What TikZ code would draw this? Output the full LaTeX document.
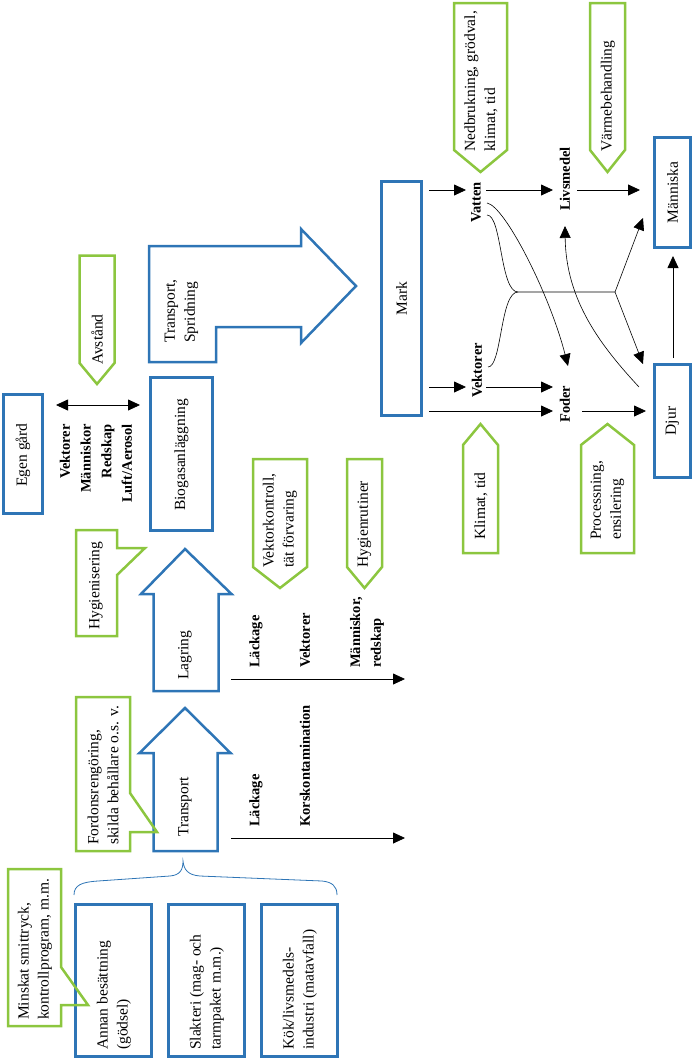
\documentclass[tikz,border=0pt]{standalone}
\usepackage{fontspec}
\setmainfont{Liberation Serif}
\usetikzlibrary{arrows.meta,calc}
\definecolor{bblue}{RGB}{46,117,182}
\definecolor{ggreen}{RGB}{140,198,63}
\begin{document}
\begin{tikzpicture}[x=1pt,y=-1pt,
  bluebox/.style={draw=bblue,line width=2.5pt,inner sep=0,outer sep=0},
  greenline/.style={draw=ggreen,line width=2.5pt,line join=miter},
  blueline/.style={draw=bblue,line width=2.5pt,line join=miter},
  txt/.style={rotate=90,inner sep=0,font=\fontsize{15.5}{20}\selectfont,align=left},
  btxt/.style={rotate=90,inner sep=0,font=\fontsize{14.5}{20.7}\selectfont\bfseries,align=left},
  tip/.style={-{Triangle[length=12pt,width=11pt]}},
  arr/.style={tip,line width=0.8pt},
  darr/.style={{Triangle[length=12pt,width=11pt]}-{Triangle[length=12pt,width=11pt]},line width=0.8pt},
  conn/.style={line width=0.6pt}
]
\useasboundingbox (0,0) rectangle (693,1061);

% ---------- blue boxes ----------
\node[bluebox,minimum width=76pt,minimum height=152pt] (annan) at (113.5,980.5) {};
\node[bluebox,minimum width=76pt,minimum height=152pt] (slakt) at (206.5,980.5) {};
\node[bluebox,minimum width=76pt,minimum height=152pt] (kok) at (299.5,980.5) {};
\node[bluebox,minimum width=62pt,minimum height=153pt] (biogas) at (181.5,454) {};
\node[bluebox,minimum width=40pt,minimum height=234pt] (mark) at (401.5,298.5) {};
\node[bluebox,minimum width=39pt,minimum height=119pt] (egen) at (23,454) {};
\node[bluebox,minimum width=36pt,minimum height=110pt] (manniska) at (672.5,192.5) {};
\node[bluebox,minimum width=36pt,minimum height=113pt] (djur) at (672.5,421) {};

% ---------- block arrows ----------
\draw[blueline] (153.5,851) -- (153.5,753) -- (139.5,753) -- (185,708) -- (230.5,753) -- (217.5,753) -- (217.5,851) -- cycle;
\draw[blueline] (153.5,691) -- (153.5,594) -- (141,594) -- (185,549) -- (231.5,594) -- (218.5,594) -- (218.5,691) -- cycle;
\draw[blueline] (149,246) -- (301,246) -- (301,229) -- (356,286) -- (301,343) -- (301,327) -- (216,327) -- (216,362) -- (149,362) -- cycle;

% ---------- green callouts ----------
\draw[greenline] (8,869) -- (61,869) -- (61,967) -- (88,1005) -- (61,1005) -- (61,1026) -- (8,1026) -- cycle;
\draw[greenline] (76,697) -- (130,697) -- (130,793) -- (157,832) -- (130,832) -- (130,851) -- (76,851) -- cycle;
\draw[greenline] (76,530) -- (117,530) -- (117,548) -- (145,548) -- (117,575) -- (117,636) -- (76,636) -- cycle;
\draw[greenline] (79.5,255.5) -- (114.5,255.5) -- (114.5,363) -- (97,384) -- (79.5,363) -- cycle;
\draw[greenline] (253,459) -- (307,459) -- (307,567) -- (280,588) -- (253,567) -- cycle;
\draw[greenline] (347,459) -- (382,459) -- (382,567) -- (364.5,588) -- (347,567) -- cycle;
\draw[greenline] (454,3) -- (507,3) -- (507,150) -- (480.5,172) -- (454,150) -- cycle;
\draw[greenline] (590,3) -- (625,3) -- (625,150) -- (607.5,172) -- (590,150) -- cycle;
\draw[greenline] (463,553) -- (463,445) -- (480.5,424) -- (498,445) -- (498,553) -- cycle;
\draw[greenline] (581,553) -- (581,445) -- (607.5,424) -- (634,445) -- (634,553) -- cycle;

% ---------- texts ----------
\node[txt,anchor=west] (tannan) at (114,1050) {Annan besättning\\(gödsel)};
\node[txt,anchor=west] (tslakt) at (207,1050) {Slakteri (mag- och\\tarmpaket m.m.)};
\node[txt,anchor=west] (tkok) at (300,1050) {Kök/livsmedels-\\industri (matavfall)};
\node[txt,anchor=west] (tminsk) at (35,1020) {Minskat smittryck,\\kontrollprogram, m.m.};
\node[txt,anchor=west] (ttransp) at (185,837) {Transport};
\node[txt,anchor=west] (tfordon) at (103,845) {Fordonsrengöring,\\skilda behållare o.s. v.};
\node[txt,anchor=west] (tlagr) at (185,680) {Lagring};
\node[txt,anchor=west] (thyg) at (96,630) {Hygienisering};
\node[txt] (tbiogas) at (181.5,455) {Biogasanläggning};
\node[txt,anchor=west] (tspr) at (181.5,343) {Transport,\\Spridning};
\node[txt] (tegen) at (23,455) {Egen gård};
\node[txt,anchor=west] (tavst) at (97,365) {Avstånd};
\node[btxt,anchor=east,align=right] (tvekt) at (96,424) {Vektorer\\Människor\\Redskap\\Luft/Aerosol};
\node[btxt,anchor=west] (tlack1) at (256,668) {Läckage};
\node[btxt,anchor=west] (tvek1) at (305,668) {Vektorer};
\node[btxt,anchor=west] (tmann1) at (367,668) {Människor,\\redskap};
\node[txt,anchor=west] (tvkontr) at (280,568) {Vektorkontroll,\\tät förvaring};
\node[txt,anchor=west] (thygr) at (364.5,568) {Hygienrutiner};
\node[btxt,anchor=west] (tlack2) at (256,827) {Läckage};
\node[btxt,anchor=west] (tkors) at (305,827) {Korskontamination};
\node[txt,anchor=west] (tnedb) at (481,152) {Nedbrukning, grödval,\\klimat, tid};
\node[txt,anchor=west] (tvarm) at (608,152) {Värmebehandling};
\node[btxt,anchor=west] (vatten) at (476,223) {Vatten};
\node[btxt,anchor=west] (livsm) at (565,211) {Livsmedel};
\node[txt] (tmann) at (672.5,192.5) {Människa};
\node[btxt,anchor=west] (vektor2) at (477,398) {Vektorer};
\node[btxt,anchor=west] (foder) at (565,423) {Foder};
\node[txt] (tdjur) at (672.5,421) {Djur};
\node[txt] (tmark) at (401.5,298.5) {Mark};
\node[txt,anchor=west] (tklim) at (481,540) {Klimat, tid};
\node[txt,anchor=west] (tproc) at (607.5,540) {Processning,\\ensilering};

% ---------- connector end points ----------
\coordinate (m1) at (429,190);   \coordinate (v1) at (466,190);
\coordinate (v2) at (486,190);   \coordinate (l1) at (553,190);
\coordinate (l2) at (577,190);   \coordinate (h1) at (640,190);
\coordinate (m2) at (429,387);   \coordinate (k1) at (466,387);
\coordinate (k2) at (486,387);   \coordinate (f1) at (553,387);
\coordinate (m3) at (429,411);   \coordinate (f2) at (553,411);
\coordinate (f3) at (582,411);   \coordinate (d1) at (646,411);
\coordinate (d2) at (673,358);   \coordinate (h2) at (673,256);
\coordinate (e1) at (56,405);    \coordinate (b1) at (140,405);
\coordinate (la1) at (231,679);  \coordinate (la2) at (405,679);
\coordinate (tr1) at (231,838);  \coordinate (tr2) at (405,838);
\coordinate (va1) at (487,203);  \coordinate (fo1) at (568,366);
\coordinate (va2) at (487,215);  \coordinate (ve2) at (488,367);
\coordinate (j1) at (518,292);   \coordinate (j2) at (615,292);
\coordinate (ma1) at (643,218);  \coordinate (dj1) at (643,364);
\coordinate (dj2) at (639,387);  \coordinate (li1) at (565,226);

% ---------- connectors ----------
\draw[arr] (m1) -- (v1);
\draw[arr] (v2) -- (l1);
\draw[arr] (l2) -- (h1);
\draw[arr] (m2) -- (k1);
\draw[arr] (k2) -- (f1);
\draw[arr] (m3) -- (f2);
\draw[arr] (f3) -- (d1);
\draw[arr] (d2) -- (h2);
\draw[darr] (e1) -- (b1);
\draw[arr] (la1) -- (la2);
\draw[arr] (tr1) -- (tr2);

\draw[conn,tip] (va1) .. controls (505,206) and (550,295) .. (fo1);
\draw[conn] (va2) .. controls (502,215) and (500,292) .. (j1) -- (j2);
\draw[conn] (ve2) .. controls (502,367) and (500,292) .. (j1);
\draw[conn,tip] (j2) -- (ma1);
\draw[conn,tip] (j2) -- (dj1);
\draw[conn,tip] (dj2) .. controls (600,345) and (566,300) .. (li1);

% ---------- brace ----------
\draw[bblue,line width=0.8pt] (74,895) .. controls (74,885) and (82,882) .. (98,881) -- (170,876) .. controls (180,875) and (183,870) .. (183,861) .. controls (184,870) and (188,875) .. (200,876) -- (322,881) .. controls (332,882) and (337,886) .. (337,895);
\end{tikzpicture}
\end{document}
